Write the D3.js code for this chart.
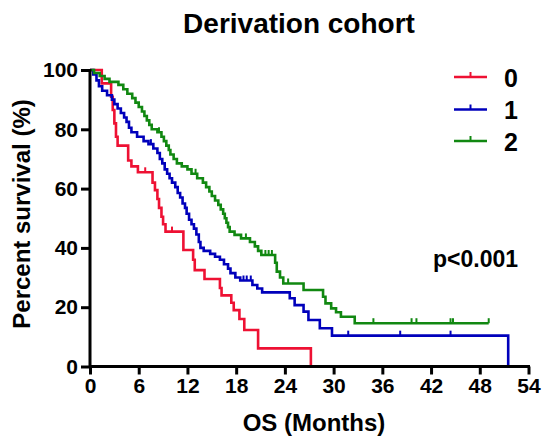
<!DOCTYPE html>
<html><head><meta charset="utf-8">
<script src="https://cdn.jsdelivr.net/npm/d3@7"></script>
<style>
html,body{margin:0;padding:0;background:#fff;}
text{font-family:"Liberation Sans",Arial,sans-serif;font-weight:bold;fill:#000;}
</style></head>
<body>
<svg id="chart" width="543" height="439"></svg>
<script>
// ---- data ----
const groups = ["0", "1", "2"];
const colors = ["#ee1133", "#0000bb", "#118811"];

const times0 = [0, 1.45, 2.6, 2.8, 3.0, 3.2, 3.4, 4.7, 5.1, 5.9, 7.7, 8.0, 8.3, 8.5, 8.8, 9.0, 9.3, 11.5, 12.7, 12.9, 14.1, 16.0, 16.2, 17.4, 17.7, 18.4, 19.0, 20.7, 27.2];
const surv0  = [100, 95.5, 91, 86.5, 82, 77.5, 74.5, 69.5, 67.5, 65.5, 62, 59.5, 56.5, 53.5, 50.5, 48, 45.5, 39.3, 36, 32.5, 29.5, 26.5, 24, 21.5, 19, 16, 12.3, 6.1, 0];
const censor0 = [6.8, 10.1];

const times1 = [0, 0.4, 0.8, 1.1, 1.5, 2.1, 2.7, 3.0, 3.4, 3.8, 4.2, 4.5, 4.8, 5.1, 5.8, 6.6, 7.2, 7.8, 8.3, 8.6, 8.9, 9.2, 9.5, 9.8, 10.1, 10.5, 10.8, 11.1, 11.4, 11.7, 11.9, 12.2, 12.5, 12.8, 13.1, 13.4, 13.6, 14.0, 14.8, 15.4, 16.0, 16.5, 17.0, 17.3, 17.9, 18.5, 20.0, 20.6, 21.2, 24.6, 25.2, 26.3, 26.9, 28.3, 29.8, 51.5];
const surv1  = [100, 98.5, 96.5, 94.5, 93, 91.5, 90, 88.5, 87, 85.5, 84, 82.5, 80.5, 79, 77.5, 76, 75, 73.5, 72, 70, 68.5, 66.5, 65, 63.5, 62, 60.5, 58.5, 57, 55, 53.5, 51.5, 49.5, 48, 46.5, 44.5, 42, 40, 39, 38, 37, 36, 34.5, 33, 31.5, 30, 29, 27.5, 26.3, 25, 23, 20.7, 18.5, 15.7, 12.9, 10.4, 0];
const censor1 = [7.5, 18.9, 19.3, 19.8, 31.8, 38.2, 44.4];

const times2 = [0, 0.5, 1.2, 1.8, 2.4, 3.5, 4.1, 4.6, 5.2, 5.6, 6.0, 6.4, 6.7, 7.0, 7.3, 7.6, 8.3, 8.8, 9.1, 9.4, 9.7, 9.9, 10.3, 10.7, 11.3, 12.0, 12.5, 13.2, 13.9, 14.3, 14.7, 15.0, 15.4, 15.8, 16.1, 16.4, 16.6, 16.8, 17.0, 17.2, 17.8, 18.6, 19.7, 20.3, 20.7, 21.1, 22.8, 23.0, 23.4, 23.8, 26.3, 28.7, 29.0, 29.7, 30.3, 30.9, 32.6, 49.1];
const surv2  = [100, 99, 98, 97, 96, 95, 93.5, 92, 90.5, 89, 87.5, 86, 84.5, 83, 81.5, 80, 79, 77.5, 76, 74.5, 73, 71.5, 70, 68.5, 67.5, 66.5, 65, 63.5, 62, 60.5, 59, 57.5, 56, 54.5, 53, 51.5, 50, 48.5, 47, 45.5, 44.4, 43.2, 42, 40.5, 39, 37.6, 35, 32, 30, 28, 25.8, 23.5, 21.3, 19.6, 18.3, 16.8, 14.6, 14.6];
const censor2 = [8.5, 13.0, 19.2, 21.6, 22.0, 22.4, 24.4, 34.9, 39.6, 40.2, 44.4, 44.7, 49.1];

const xTicks = [0, 6, 12, 18, 24, 30, 36, 42, 48, 54];
const yTicks = [0, 20, 40, 60, 80, 100];

const titleText = "Derivation cohort";
const xTitle = "OS (Months)";
const yTitle = "Percent survival (%)";
const pText = "p<0.001";

// ---- layout ----
const svg = d3.select("#chart");
const x = d3.scaleLinear().domain([0, 54]).range([90, 528.5]);
const y = d3.scaleLinear().domain([0, 100]).range([366.5, 70]);

const series = [
  {times: times0, surv: surv0, censor: censor0},
  {times: times1, surv: surv1, censor: censor1},
  {times: times2, surv: surv2, censor: censor2}
];

// title
svg.append("text").attr("x", 299).attr("y", 33).attr("text-anchor", "middle")
  .style("font-size", "28px").text(titleText);

// curves
const line = d3.line().x(d => x(d[0])).y(d => y(d[1])).curve(d3.curveStepAfter);
const bis = d3.bisector(d => d).right;
series.forEach((s, i) => {
  const pts = s.times.map((t, j) => [t, s.surv[j]]);
  svg.append("path").datum(pts).attr("d", line)
    .attr("fill", "none").attr("stroke", colors[i]).attr("stroke-width", 2.6)
    .attr("stroke-linejoin", "miter");
  s.censor.forEach(c => {
    const k = Math.max(0, bis(s.times, c) - 1);
    const v = s.surv[k];
    svg.append("line").attr("x1", x(c)).attr("x2", x(c))
      .attr("y1", y(v)).attr("y2", y(v) - 5)
      .attr("stroke", colors[i]).attr("stroke-width", 2);
  });
});

// axes
const xAxis = d3.axisBottom(x).tickValues(xTicks).tickSize(8).tickPadding(4);
const gx = svg.append("g").attr("transform", "translate(0,366.5)").call(xAxis);
gx.select(".domain").attr("stroke", "#000").attr("stroke-width", 3)
  .attr("d", `M${x(0)},0H${x(54) + 1.5}`);
gx.selectAll(".tick line").attr("stroke", "#000").attr("stroke-width", 3);
gx.selectAll(".tick text").style("font-size", "21px")
  .style("font-family", "Liberation Sans, Arial, sans-serif").style("font-weight", "bold")
  .attr("fill", "#000").attr("y", 12).attr("dy", "0.71em");

const yAxis = d3.axisLeft(y).tickValues(yTicks).tickSize(9).tickPadding(3);
const gy = svg.append("g").attr("transform", "translate(90,0)").call(yAxis);
gy.select(".domain").attr("stroke", "#000").attr("stroke-width", 3)
  .attr("d", `M0,${y(0) + 1.5}V${y(100) - 1}`);
gy.selectAll(".tick line").attr("stroke", "#000").attr("stroke-width", 3);
gy.selectAll(".tick text").style("font-size", "21px")
  .style("font-family", "Liberation Sans, Arial, sans-serif").style("font-weight", "bold")
  .attr("fill", "#000");

// axis titles
svg.append("text").attr("x", 314).attr("y", 431).attr("text-anchor", "middle")
  .style("font-size", "24px").text(xTitle);
svg.append("text").attr("transform", "translate(30,214) rotate(-90)")
  .attr("text-anchor", "middle").style("font-size", "24px").text(yTitle);

// legend
const legY = [77, 109.5, 141];
groups.forEach((g, i) => {
  svg.append("line").attr("x1", 454).attr("x2", 487).attr("y1", legY[i]).attr("y2", legY[i])
    .attr("stroke", colors[i]).attr("stroke-width", 2.6);
  svg.append("line").attr("x1", 470.5).attr("x2", 470.5).attr("y1", legY[i]).attr("y2", legY[i] - 5)
    .attr("stroke", colors[i]).attr("stroke-width", 2);
  svg.append("text").attr("x", 504).attr("y", legY[i] + 9.5).style("font-size", "25px").text(g);
});

// p-value
svg.append("text").attr("x", 433).attr("y", 267).style("font-size", "23px").text(pText);
</script>
</body></html>
